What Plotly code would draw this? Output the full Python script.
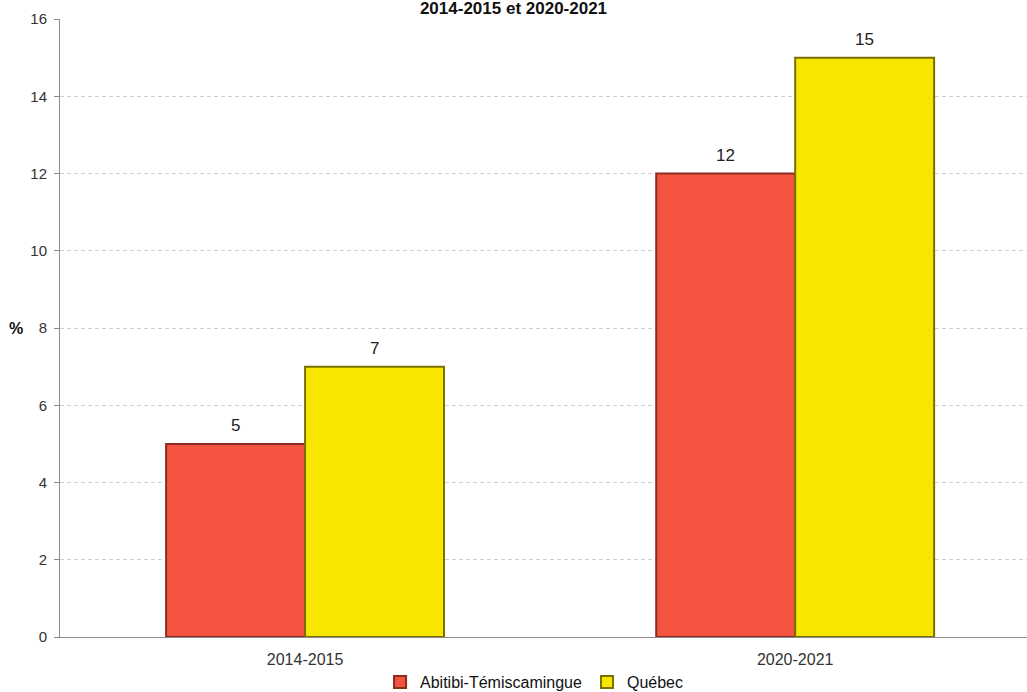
import plotly.graph_objects as go

categories = ["2014-2015", "2020-2021"]
abitibi = [5, 12]
quebec = [7, 15]
series_names = ["Abitibi-Témiscamingue", "Québec"]
title_text = "2014-2015 et 2020-2021"
y_ticks = [0, 2, 4, 6, 8, 10, 12, 14, 16]

FONT = "Liberation Sans, Arial, sans-serif"
BAR_OFFSET_PX = 69.5  # half bar width, for value labels

fig = go.Figure()
fig.add_trace(go.Bar(
    x=categories, y=abitibi, name=series_names[0],
    marker=dict(color="#F4533F", line=dict(color="#8E2B1F", width=2)),
))
fig.add_trace(go.Bar(
    x=categories, y=quebec, name=series_names[1],
    marker=dict(color="#F9E600", line=dict(color="#7A7000", width=2)),
))

for vals, shift in ((abitibi, -BAR_OFFSET_PX), (quebec, BAR_OFFSET_PX)):
    for cat, v in zip(categories, vals):
        fig.add_annotation(x=cat, y=v, text=str(v), showarrow=False,
                           xshift=shift, yshift=7, yanchor="bottom",
                           font=dict(size=17, color="#222222", family=FONT))

fig.update_layout(
    width=1027, height=692,
    paper_bgcolor="white", plot_bgcolor="white",
    font=dict(family=FONT, size=15, color="#333333"),
    margin=dict(l=60, r=0, t=19, b=55, autoexpand=False),
    barmode="group", bargap=0.433, bargroupgap=0,
    title=dict(text="<b>" + title_text + "</b>", x=0.5, xanchor="center",
               y=1 - 2 / 692, yanchor="top", yref="container",
               font=dict(size=17, color="#111111", family=FONT)),
    showlegend=True,
    legend=dict(orientation="h", x=0.52, xanchor="center", xref="container",
                y=1 - 682 / 692, yanchor="middle", yref="container",
                font=dict(size=16, color="#111111", family=FONT),
                itemwidth=30, traceorder="normal"),
)
fig.update_xaxes(
    range=[-0.5, 1.473], showline=True, linecolor="#8C8C8C", linewidth=1,
    ticks="", showgrid=False, tickfont=dict(size=16, color="#333333"),
    ticklabelstandoff=8,
)
fig.update_yaxes(
    range=[0, 16], tickvals=y_ticks, showline=True, linecolor="#8C8C8C", linewidth=1,
    ticks="outside", ticklen=5, tickcolor="#8C8C8C",
    showgrid=True, gridcolor="#CFCFCF", griddash="4px,3px", gridwidth=1,
    tickfont=dict(size=15, color="#333333"), zeroline=False,
    ticklabelstandoff=4,
)
fig.add_annotation(text="<b>%</b>", xref="paper", yref="paper", x=-0.045, y=0.5,
                   xanchor="center", yanchor="middle", showarrow=False,
                   font=dict(size=16, color="#111111", family=FONT))

fig.write_html("out.html", config={"displayModeBar": False},
               post_script="document.body.style.margin='0px';")
